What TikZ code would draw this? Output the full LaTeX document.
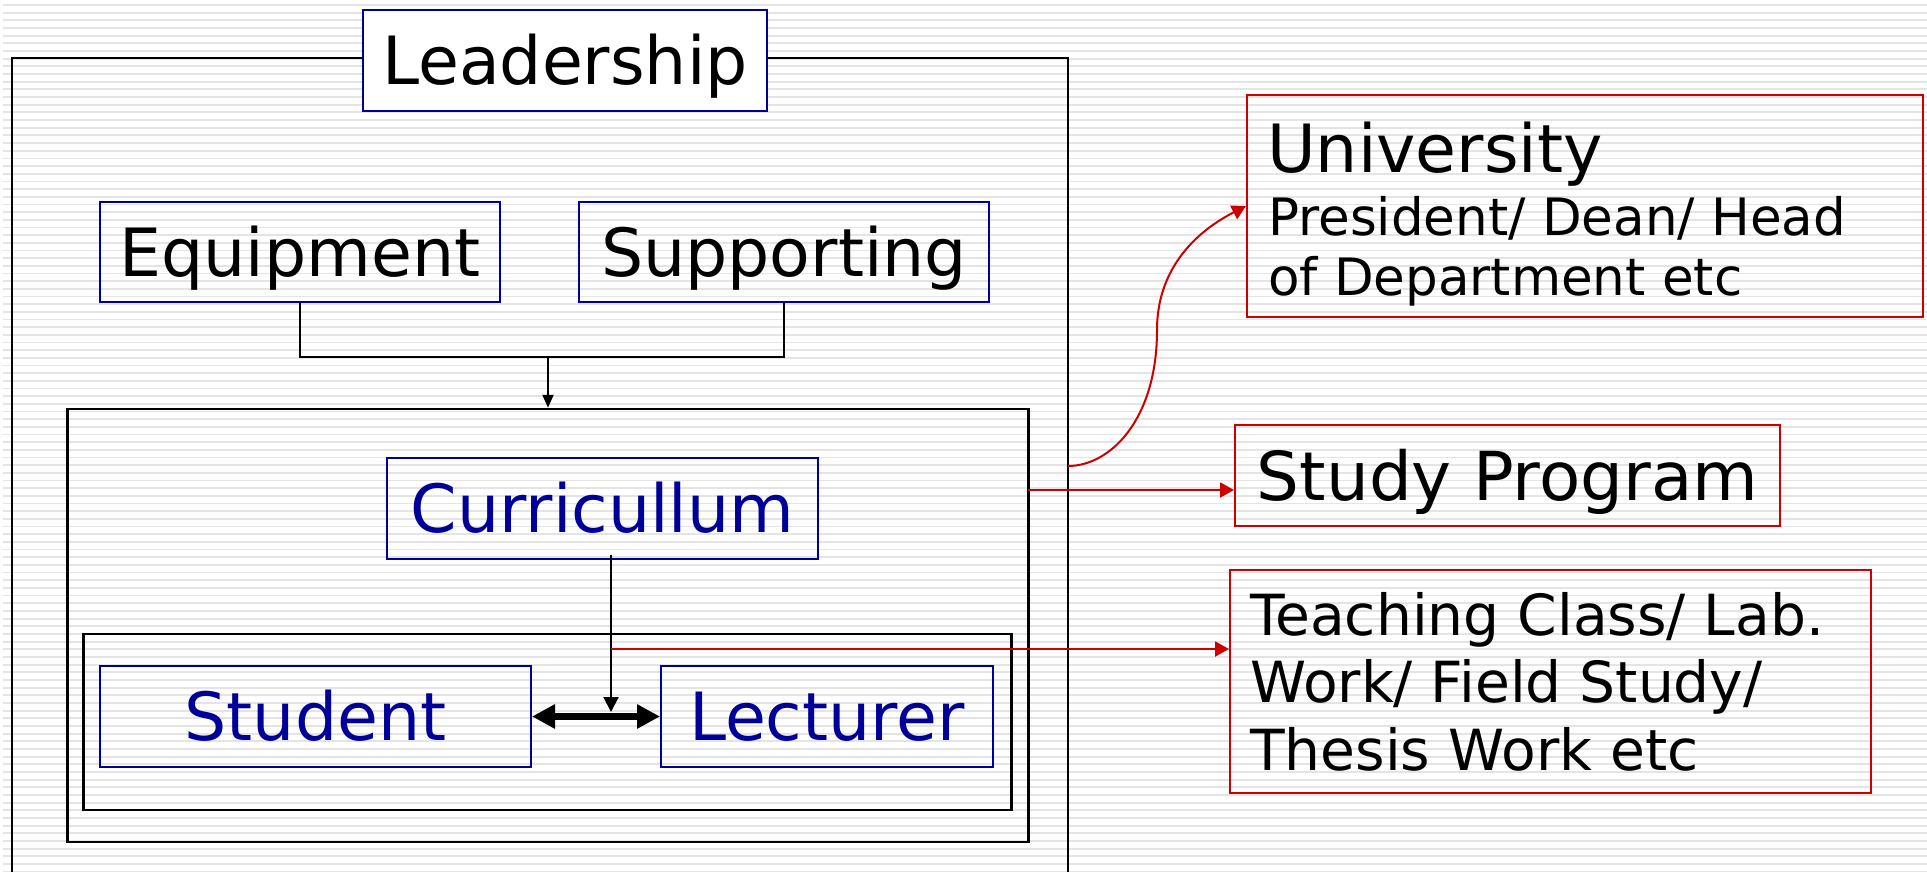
\documentclass[tikz,border=0pt]{standalone}
\usepackage{fontspec}
\setmainfont{DejaVu Sans}
\usetikzlibrary{arrows.meta}
\definecolor{dblue}{RGB}{0,0,153}
\definecolor{dred}{RGB}{204,0,0}
\definecolor{stripegray}{RGB}{228,228,228}
\newcommand\fbig{\fontsize{66.5}{78}\selectfont}
\newcommand\fbigger{\fontsize{67.5}{78}\selectfont}
\newcommand\fmid{\fontsize{56.7}{67}\selectfont}
\newcommand\fsml{\fontsize{51.5}{60}\selectfont}
\tikzset{
  stripe/.style={draw=stripegray, line width=1.8pt},
  frame/.style={draw=black, line width=2.5pt, inner sep=0pt},
  bluebox/.style={draw=dblue, line width=2pt, inner sep=0pt, font=\fbig, text height=48.5pt, text depth=0pt},
  redbox/.style={draw=dred, line width=2pt, inner sep=0pt},
  redtext/.style={font=\fbigger, text height=49pt, text depth=0pt},
  linetext/.style={anchor=base west, inner sep=0pt},
  blk/.style={draw=black, line width=2pt},
  blkarr/.style={blk, -{Triangle[length=13pt,width=11pt]}},
  redarr/.style={draw=dred, line width=2pt, -{Triangle[length=14pt,width=15pt]}},
}
\begin{document}
\begin{tikzpicture}[x=1pt, y=-1pt]
\clip (0,0) rectangle (1927,872);
\fill[white] (0,0) rectangle (1927,872);
\foreach \i in {0,...,113} \draw[stripe] (3,{5+7.67*\i}) -- (1927,{5+7.67*\i});

% black frames
\node[frame, line width=2pt, minimum width=1056pt, minimum height=892pt] (outer) at (540,504) {};
\node[frame, minimum width=960.8pt, minimum height=433pt] (mid) at (548,625.5) {};
\node[frame, minimum width=928pt, minimum height=176pt] (inner) at (547.6,722) {};

% blue boxes
\node[bluebox, fill=white, minimum width=404pt, minimum height=101pt] (lead) at (565,60.5) {Leadership};
\node[bluebox, minimum width=400pt, minimum height=100pt] (equip) at (300,252) {Equipment};
\node[bluebox, minimum width=410pt, minimum height=100pt] (supp) at (784,252) {Supporting};
\node[bluebox, text=dblue, minimum width=431pt, minimum height=101pt] (curr) at (602.5,508.5) {Curricullum};
\node[bluebox, text=dblue, minimum width=431pt, minimum height=101pt] (stud) at (315.5,716.5) {Student};
\node[bluebox, text=dblue, minimum width=332pt, minimum height=101pt] (lect) at (827,716.5) {Lecturer};

% red boxes
\node[redbox, minimum width=676pt, minimum height=222pt] (univ) at (1585,206) {};
\node[linetext, font=\fbig] (univt) at (1267,172) {University};
\node[linetext, font=\fsml] (pres) at (1268,235) {President/ Dean/ Head};
\node[linetext, font=\fsml] (dept) at (1268,295) {of Department etc};

\node[redbox, redtext, minimum width=545pt, minimum height=101pt] (study) at (1507.5,475.5) {Study Program};

\node[redbox, minimum width=641pt, minimum height=223pt] (teach) at (1550.5,681.5) {};
\node[linetext, font=\fmid] (t1) at (1250,635) {Teaching Class/ Lab.};
\node[linetext, font=\fmid] (t2) at (1250,702.5) {Work/ Field Study/};
\node[linetext, font=\fmid] (t3) at (1250,770) {Thesis Work etc};

% black connectors
\draw[blk] (equip.south) -- ++(0,54) coordinate (j1) -| (supp.south);
\draw[blkarr] (j1 -| mid.north) -- (mid.north);
\coordinate (ct) at (611,712);
\draw[blk, -{Triangle[length=15pt,width=15pt]}] ([xshift=8.5pt,yshift=5pt]curr.south) -- (ct);
\draw[line width=7pt, {Triangle[length=23pt,width=23pt]}-{Triangle[length=23pt,width=23pt]}] (stud.east) -- (lect.west);

% red connectors
\coordinate (ta) at (611,649);
\draw[redarr] (ta) -- (ta -| teach.west);
\coordinate (sa) at (1028,490);
\draw[redarr] (sa) -- (sa -| study.west);
\coordinate (ca) at (1068,466);
\draw[redarr] (ca) .. controls (1110,466) and (1157,420) .. (1157,330) .. controls (1157,255) and (1215,222) .. (univ.west);
\end{tikzpicture}
\end{document}
